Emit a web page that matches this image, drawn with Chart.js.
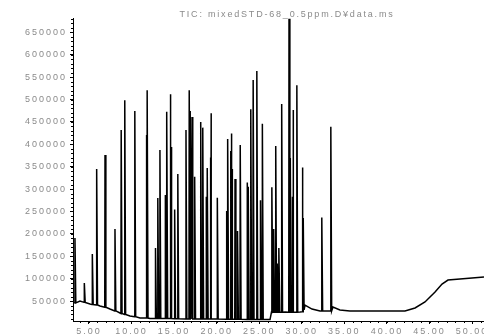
<!DOCTYPE html>
<html>
<head>
<meta charset="utf-8">
<script src="https://cdn.jsdelivr.net/npm/chart.js@4.4.1/dist/chart.umd.min.js"></script>
<style>
  html, body { margin: 0; padding: 0; background: #fff; }
  #wrap { width: 484px; height: 334px; }
</style>
</head>
<body>
<div id="wrap"><canvas id="tic" width="484" height="334"></canvas></div>
<script>
  const TITLE = 'TIC: mixedSTD-68_0.5ppm.D¥data.ms';
  const xTickValues = [5, 10, 15, 20, 25, 30, 35, 40, 45, 50];
  const yTickValues = [50000, 100000, 150000, 200000, 250000, 300000, 350000,
    400000, 450000, 500000, 550000, 600000, 650000];

  // picos: tiempo de retención (min), altura, línea base bajo el pico
  const peakTimes = [3.36, 4.46, 5.40, 5.91, 6.89, 8.06, 8.79, 9.21, 10.39, 11.74, 11.84,
    12.82, 13.09, 13.34, 13.98, 14.15, 14.56, 14.65, 15.07, 15.44,
    16.40, 16.78, 16.91, 17.11, 17.20, 17.42, 18.13, 18.37, 18.79, 18.90, 19.26, 19.36, 20.08,
    21.18, 21.31, 21.66, 21.75, 21.84, 22.16, 22.45, 22.77, 23.60, 23.72, 24.01, 24.29, 24.72,
    25.15, 25.37, 26.50, 26.70, 26.94, 27.12, 27.32, 27.64, 28.50, 28.65, 28.91, 29.00, 29.42,
    30.06, 30.17, 32.35, 33.41];
  const peakHeights = [190600, 90200, 154900, 344600, 375900, 210700, 431700, 498600, 474100, 420500, 520900,
    168300, 279900, 387000, 286600, 472500, 511600, 393700, 254400, 333500,
    431700, 520900, 474100, 460700, 320000, 327400, 449500, 437200, 282800, 346900, 370300, 469200, 280600,
    251300, 411600, 384800, 424300, 344600, 322300, 206200, 398200, 314900, 305100, 478100, 543300, 563400,
    274800, 445700, 304000, 210700, 396400, 133700, 168300, 489700, 680500, 369200, 282800, 476300, 532100,
    348400, 235300, 236400, 439000];
  const peakBases = [46000, 47000, 42000, 41000, 36000, 28000, 22000, 20000, 15000, 12000, 12000,
    11000, 11000, 11000, 11000, 11000, 11000, 11000, 10500, 10500,
    10000, 10000, 10000, 10000, 10000, 10000, 10000, 10000, 10000, 10000, 10000, 10000, 10000,
    9500, 9500, 9500, 9500, 9500, 9500, 9500, 9500, 9000, 9000, 9000, 9000, 9000,
    9000, 9000, 25000, 25000, 25000, 25000, 25000, 25000, 25000, 25000, 25000, 25000, 25000,
    26000, 30000, 28000, 28000];

  // línea base (min, cuentas)
  const baseTimes = [3.13, 3.95, 5.13, 6.30, 7.47, 8.65, 9.82, 11.00, 12.17, 18.04, 25.68, 26.27,
    26.44, 28.03, 29.79, 30.38, 31.20, 32.14, 32.85, 33.66, 34.48, 35.65, 42.12,
    43.30, 44.47, 45.65, 46.47, 47.17, 48.58, 51.40];
  const baseValues = [45500, 50000, 43300, 38800, 32100, 23200, 16500, 12100, 10900, 9800, 8700, 8700,
    25400, 25400, 25400, 41000, 32100, 27700, 27700, 36600, 29900, 27700, 27700,
    34400, 47800, 70100, 87900, 96900, 99100, 103600];

  // Serie
  const points = [];
  baseTimes.forEach((t, i) => points.push({ x: t, y: baseValues[i] }));
  peakTimes.forEach((t, i) => {
    points.push({ x: t - 0.03, y: peakBases[i] });
    points.push({ x: t, y: peakHeights[i] });
    points.push({ x: t + 0.1, y: peakBases[i] });
  });
  points.sort((a, b) => a.x - b.x);

  const LABEL_FONT = { family: 'Liberation Sans', size: 9 };
  const LABEL_COLOR = '#8a8a8a';

  // Espaciado de letras + título + marcas menores
  const decor = {
    id: 'decor',
    beforeLayout(chart) { chart.ctx.letterSpacing = '2px'; },
    beforeDraw(chart) { chart.ctx.letterSpacing = '2px'; },
    afterDraw(chart) {
      const ctx = chart.ctx;
      const { x, y } = chart.scales;
      ctx.save();
      ctx.strokeStyle = '#000';
      ctx.lineWidth = 1;
      ctx.beginPath();
      for (let v = 10000; v <= 680000; v += 10000) {
        const py = Math.round(y.getPixelForValue(v)) + 0.5;
        ctx.moveTo(chart.chartArea.left - 2, py);
        ctx.lineTo(chart.chartArea.left, py);
      }
      for (let t = 4; t <= 51; t += 1) {
        const px = Math.round(x.getPixelForValue(t)) + 0.5;
        ctx.moveTo(px, chart.chartArea.bottom);
        ctx.lineTo(px, chart.chartArea.bottom + 2);
      }
      ctx.stroke();

      ctx.letterSpacing = '1.8px';
      ctx.font = '9px "Liberation Sans"';
      ctx.fillStyle = LABEL_COLOR;
      ctx.textAlign = 'center';
      ctx.textBaseline = 'middle';
      ctx.fillText(TITLE, 287, 15);
      ctx.restore();
      ctx.letterSpacing = '0px';
    }
  };

  new Chart(document.getElementById('tic'), {
    type: 'line',
    data: {
      datasets: [{
        data: points,
        borderColor: '#000',
        borderWidth: 1.5,
        pointRadius: 0,
        tension: 0,
        fill: false
      }]
    },
    options: {
      responsive: false,
      animation: false,
      devicePixelRatio: 1,
      layout: { padding: { top: 18, left: 0, right: 0, bottom: 0 } },
      plugins: { legend: { display: false }, tooltip: { enabled: false }, title: { display: false } },
      scales: {
        x: {
          type: 'linear',
          min: 3.13,
          max: 51.4,
          afterBuildTicks(scale) { scale.ticks = xTickValues.map(v => ({ value: v })); },
          afterFit(scale) { scale.height = 13; scale.paddingLeft = 0; scale.paddingRight = 0; },
          grid: { drawOnChartArea: false, tickLength: 3, color: '#000' },
          border: { display: true, color: '#000', width: 1 },
          ticks: {
            autoSkip: false, maxRotation: 0, padding: 2,
            color: LABEL_COLOR, font: LABEL_FONT,
            callback: v => Number(v).toFixed(2)
          }
        },
        y: {
          type: 'linear',
          min: 5400,
          max: 682000,
          afterBuildTicks(scale) { scale.ticks = yTickValues.map(v => ({ value: v })); },
          afterFit(scale) { scale.width = 73; scale.paddingTop = 0; scale.paddingBottom = 0; },
          grid: { drawOnChartArea: false, tickLength: 3, color: '#000' },
          border: { display: true, color: '#000', width: 1 },
          ticks: {
            padding: 3, color: LABEL_COLOR, font: LABEL_FONT,
            callback: v => String(v)
          }
        }
      }
    },
    plugins: [decor]
  });
</script>
</body>
</html>
